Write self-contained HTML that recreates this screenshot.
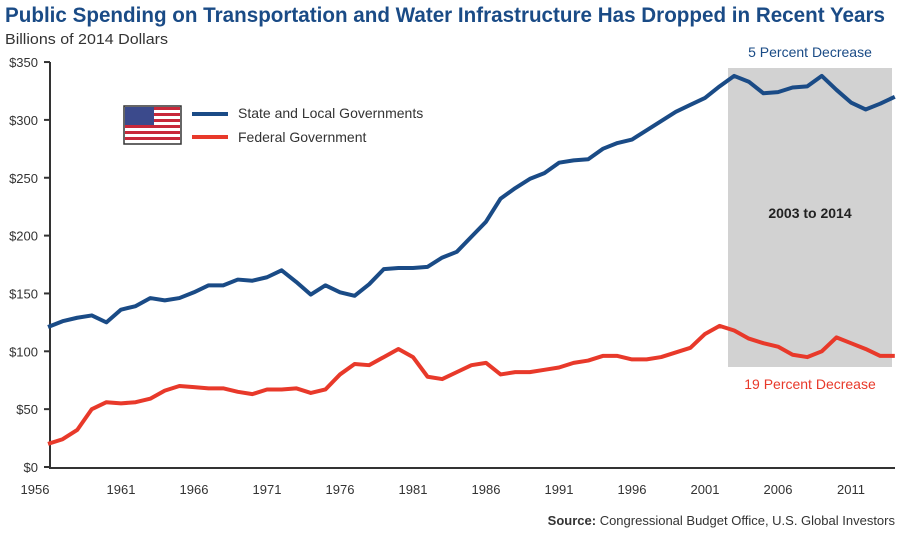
<!DOCTYPE html>
<html><head><style>
body{margin:0;background:#fff;width:900px;height:534px;overflow:hidden;font-family:"Liberation Sans",sans-serif}
</style></head><body>
<svg id="s" width="900" height="534" xmlns="http://www.w3.org/2000/svg" font-family="Liberation Sans, sans-serif">
<text x="5" y="22" font-size="21" font-weight="bold" fill="#1a4b86" textLength="880" lengthAdjust="spacingAndGlyphs">Public Spending on Transportation and Water Infrastructure Has Dropped in Recent Years</text>
<text x="5" y="44" font-size="15" fill="#333" textLength="163" lengthAdjust="spacingAndGlyphs">Billions of 2014 Dollars</text>
<rect x="728" y="68" width="164" height="299" fill="#d2d2d2"/>
<text x="810" y="57" font-size="14" fill="#1a4b86" text-anchor="middle">5 Percent Decrease</text>
<text x="810" y="218" font-size="14" font-weight="bold" fill="#222" text-anchor="middle">2003 to 2014</text>
<text x="810" y="389" font-size="14" fill="#e8392a" text-anchor="middle">19 Percent Decrease</text>
<g id="ax" stroke="#333" stroke-width="2"></g>
<g id="lab" font-size="13" fill="#333"></g>
<polyline id="b" fill="none" stroke="#1a4b86" stroke-width="4" stroke-linejoin="round"/>
<polyline id="r" fill="none" stroke="#e8392a" stroke-width="4" stroke-linejoin="round"/>
<g>
<rect x="124" y="106" width="57" height="38" fill="#fff" stroke="#333" stroke-width="1.5"/>
<g fill="#c8283a">
<rect x="125" y="107" width="55" height="3"/><rect x="125" y="113" width="55" height="3"/><rect x="125" y="119" width="55" height="3"/><rect x="125" y="125" width="55" height="3"/><rect x="125" y="131" width="55" height="3"/><rect x="125" y="137" width="55" height="3"/>
</g>
<rect x="125" y="107" width="29" height="18" fill="#3b4a8c"/>
</g>
<line x1="192" y1="114" x2="228" y2="114" stroke="#1a4b86" stroke-width="4"/>
<line x1="192" y1="137" x2="228" y2="137" stroke="#e8392a" stroke-width="4"/>
<text x="238" y="118" font-size="14" fill="#333">State and Local Governments</text>
<text x="238" y="142" font-size="14" fill="#333">Federal Government</text>
<text x="895" y="525" font-size="13" fill="#333" text-anchor="end"><tspan font-weight="bold">Source:</tspan> Congressional Budget Office, U.S. Global Investors</text>
</svg>
<script>
var B=[121,126,129,131,125,136,139,146,144,146,151,157,157,162,161,164,170,160,149,157,151,148,158,171,172,172,173,181,186,199,212,232,241,249,254,263,265,266,275,280,283,291,299,307,313,319,329,338,333,323,324,328,329,338,326,315,309,314,320];
var R=[20,24,32,50,56,55,56,59,66,70,69,68,68,65,63,67,67,68,64,67,80,89,88,95,102,95,78,76,82,88,90,80,82,82,84,86,90,92,96,96,93,93,95,99,103,115,122,118,111,107,104,97,95,100,112,107,102,96,96];
function X(i){return 48+i*14.6}function Y(v){return 467-v*1.157}
document.getElementById('b').setAttribute('points',B.map((v,i)=>X(i)+','+Y(v)).join(' '));
document.getElementById('r').setAttribute('points',R.map((v,i)=>X(i)+','+Y(v)).join(' '));
var ns='http://www.w3.org/2000/svg',ax=document.getElementById('ax'),lab=document.getElementById('lab');
function el(p,t,a,tx){var e=document.createElementNS(ns,t);for(var k in a)e.setAttribute(k,a[k]);if(tx)e.textContent=tx;p.appendChild(e);}
el(ax,'line',{x1:50,y1:62,x2:50,y2:468});
el(ax,'line',{x1:49,y1:468,x2:895,y2:468});
for(var v=0;v<=350;v+=50){var y=Y(v);el(ax,'line',{x1:44,y1:y,x2:50,y2:y});el(lab,'text',{x:38,y:y+5,'text-anchor':'end'},'$'+v);}
for(var yr=1956;yr<=2011;yr+=5){var x=X(yr-1956);el(lab,'text',{x:(yr==1956?35:x),y:494,'text-anchor':'middle'},yr);}
</script>
</body></html>
